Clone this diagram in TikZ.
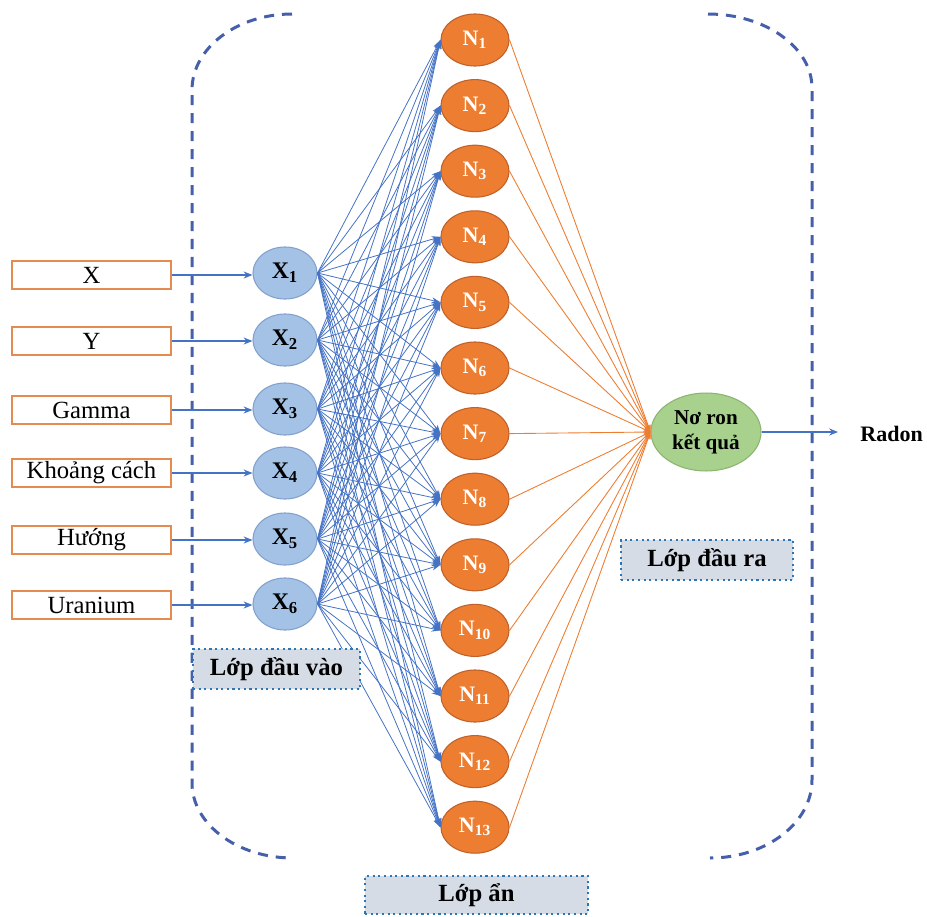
\documentclass[tikz,border=0pt]{standalone}
\usepackage{fontspec}
\setmainfont{Liberation Serif}
\usetikzlibrary{shapes.geometric,arrows.meta}
\definecolor{inborder}{RGB}{228,140,80}
\definecolor{xfill}{RGB}{164,194,230}
\definecolor{xborder}{RGB}{130,160,205}
\definecolor{nfill}{RGB}{237,125,49}
\definecolor{nborder}{RGB}{192,96,42}
\definecolor{ofill}{RGB}{169,209,142}
\definecolor{oborder}{RGB}{140,179,111}
\definecolor{cblue}{RGB}{68,114,196}
\definecolor{corange}{RGB}{237,125,49}
\definecolor{dashblue}{RGB}{70,95,170}
\definecolor{lblfill}{RGB}{214,220,229}
\definecolor{lblborder}{RGB}{46,117,182}
\tikzset{
  inbox/.style={draw=inborder, line width=0.7pt, fill=white, rectangle, minimum width=90.2pt, minimum height=15.9pt, inner sep=0pt, font=\fontsize{14}{16}\selectfont},
  xnode/.style={ellipse, draw=xborder, line width=0.6pt, fill=xfill, minimum width=36.3pt, minimum height=29.5pt, inner sep=0pt, font=\fontsize{13.5}{15}\selectfont\bfseries},
  nnode/.style={ellipse, draw=nborder, line width=0.6pt, fill=nfill, text=white, minimum width=38.6pt, minimum height=29.5pt, inner sep=0pt, font=\fontsize{12.5}{14}\selectfont\bfseries},
  onode/.style={ellipse, draw=oborder, line width=0.6pt, fill=ofill, minimum width=62.4pt, minimum height=44.2pt, inner sep=0pt, align=center, font=\fontsize{12}{14}\selectfont\bfseries},
  lbl/.style={rectangle, draw=lblborder, dotted, line width=1.2pt, fill=lblfill, minimum height=22.7pt, inner sep=0pt, font=\fontsize{14}{16}\selectfont\bfseries},
  inarrow/.style={draw=cblue, line width=0.6pt, -{Stealth[length=5pt,width=4pt]}},
  hid/.style={draw=cblue, line width=0.45pt, -{Stealth[length=5pt,width=3.5pt]}},
  outl/.style={draw=corange, line width=0.5pt, -{Stealth[length=4pt,width=3pt]}},
  bracket/.style={draw=dashblue, line width=1.7pt, dash pattern=on 5.7pt off 4.5pt}
}
\begin{document}
\begin{tikzpicture}[x=0.567pt, y=-0.567pt]
\useasboundingbox (0,0) rectangle (927,917);
% dashed brackets
\draw[bracket] (292,14) .. controls (237,14) and (192,48) .. (192,90) -- (192,783) .. controls (192,824) and (237,858) .. (293,858);
\draw[bracket] (708,14) .. controls (765,14) and (812,47) .. (812,88) -- (812,780) .. controls (812,823) and (766,858) .. (710,858);
% input boxes
\node[inbox] (b1) at (91.5,275) {X};
\node[inbox] (b2) at (91.5,341) {Y};
\node[inbox] (b3) at (91.5,410) {Gamma};
\node[inbox] (b4) at (91.5,473) {Khoảng cách};
\node[inbox] (b5) at (91.5,540) {Hướng};
\node[inbox] (b6) at (91.5,605) {Uranium};
% input neurons
\node[xnode] (x1) at (285,273) {X\textsubscript{1}};
\node[xnode] (x2) at (285,340) {X\textsubscript{2}};
\node[xnode] (x3) at (285,409) {X\textsubscript{3}};
\node[xnode] (x4) at (285,473) {X\textsubscript{4}};
\node[xnode] (x5) at (285,539) {X\textsubscript{5}};
\node[xnode] (x6) at (285,604) {X\textsubscript{6}};
% hidden neurons
\foreach \j in {1,...,13} {
  \node[nnode] (n\j) at (475,{40+(\j-1)*65.6}) {N\textsubscript{\j}};
}
% output neuron
\node[onode] (o) at (706,432) {Nơ ron\\kết quả};
\node[font=\fontsize{12.5}{15}\selectfont\bfseries, anchor=west, inner sep=0pt] (radon) at (860,434) {Radon};
\coordinate (rend) at (838,432);
% connectors
\foreach \i in {1,...,6} {
  \draw[inarrow] (b\i.east) -- (x\i.west |- b\i.east);
}
\foreach \i in {1,...,6} {
  \foreach \j in {1,...,13} {
    \draw[hid] (x\i.east) -- (n\j.west);
  }
}
\foreach \j in {1,...,13} {
  \draw[outl] (n\j.east) -- (o.west);
}
\draw[inarrow] (o.east) -- (rend);
% layer labels
\node[lbl, minimum width=94.7pt] (l1) at (276.5,669) {Lớp đầu vào};
\node[lbl, minimum width=97.5pt] (l3) at (707,560) {Lớp đầu ra};
\node[lbl, minimum width=126.4pt, minimum height=21.5pt] (l2) at (476.5,895) {Lớp ẩn};
\end{tikzpicture}
\end{document}
